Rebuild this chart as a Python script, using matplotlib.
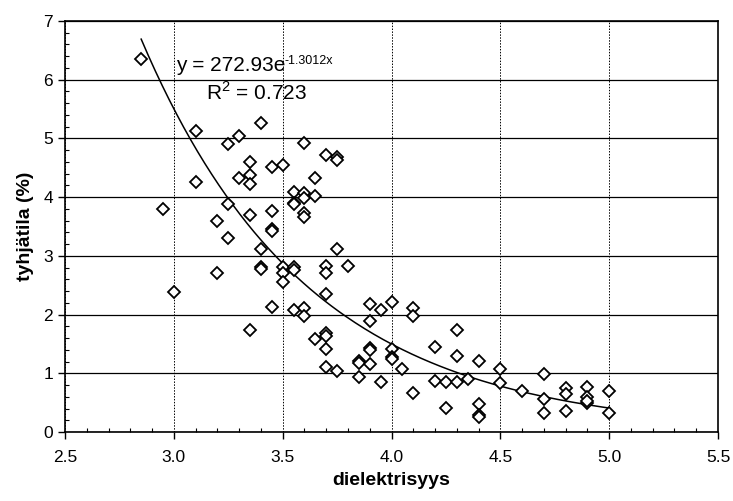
import numpy as np
import matplotlib
matplotlib.use("Agg")
import matplotlib.pyplot as plt
from matplotlib.ticker import MultipleLocator, FormatStrFormatter

plt.rcParams['font.family'] = ['Liberation Sans', 'DejaVu Sans']
plt.rcParams['mathtext.fontset'] = 'custom'
plt.rcParams['mathtext.rm'] = 'Liberation Sans'

# data (dielectric value, void content %)
diel = [2.85, 2.95, 3.00, 3.10, 3.10, 3.20, 3.20, 3.25, 3.25, 3.25,
        3.30, 3.30, 3.35, 3.35, 3.35, 3.35, 3.35, 3.40, 3.40, 3.40,
        3.40, 3.45, 3.45, 3.45, 3.45, 3.45, 3.50, 3.50, 3.50, 3.50,
        3.55, 3.55, 3.55, 3.55, 3.55, 3.55, 3.60, 3.60, 3.60, 3.60,
        3.60, 3.60, 3.60, 3.65, 3.65, 3.65, 3.70, 3.70, 3.70, 3.70,
        3.70, 3.70, 3.70, 3.70, 3.75, 3.75, 3.75, 3.75, 3.80, 3.85,
        3.85, 3.85, 3.90, 3.90, 3.90, 3.90, 3.90, 3.95, 3.95, 4.00,
        4.00, 4.00, 4.00, 4.05, 4.10, 4.10, 4.10, 4.20, 4.20, 4.25,
        4.25, 4.30, 4.30, 4.30, 4.35, 4.40, 4.40, 4.40, 4.40, 4.50,
        4.50, 4.60, 4.70, 4.70, 4.70, 4.80, 4.80, 4.80, 4.90, 4.90,
        4.90, 4.90, 5.00, 5.00]
void = [6.35, 3.79, 2.38, 5.13, 4.25, 3.59, 2.70, 4.90, 3.88, 3.31,
        5.04, 4.32, 4.60, 4.38, 4.22, 3.69, 1.74, 5.26, 3.12, 2.81,
        2.78, 4.52, 3.76, 3.45, 3.42, 2.13, 4.54, 2.81, 2.70, 2.56,
        4.08, 3.90, 2.81, 2.76, 2.08, 3.88, 4.93, 4.07, 3.98, 3.73,
        3.66, 2.11, 1.98, 4.32, 4.02, 1.58, 4.71, 2.83, 2.70, 2.35,
        1.68, 1.64, 1.41, 1.11, 4.68, 4.64, 3.11, 1.04, 2.82, 1.21,
        1.17, 0.94, 2.18, 1.89, 1.43, 1.40, 1.15, 2.08, 0.86, 2.22,
        1.41, 1.28, 1.25, 1.07, 2.11, 1.98, 0.66, 1.44, 0.87, 0.86,
        0.41, 1.74, 1.29, 0.86, 0.90, 1.21, 0.48, 0.29, 0.25, 1.08,
        0.84, 0.70, 0.98, 0.56, 0.33, 0.75, 0.64, 0.36, 0.76, 0.60,
        0.50, 0.52, 0.70, 0.32]

# trendline from chart label
fit_a = 272.93
fit_b = -1.3012
r2 = 0.723

fig = plt.figure(figsize=(7.33, 5.01), dpi=100)
ax = fig.add_axes([65/733, 69/501, 653/733, 411/501])

xs = np.linspace(min(diel), max(diel), 200)
ax.plot(xs, fit_a * np.exp(fit_b * xs), color='black', lw=1.1, zorder=3)
ax.plot(diel, void, linestyle='none', marker='D', ms=6, mfc='white',
        mec='black', mew=1.3, zorder=4)

ax.set_xlim(2.5, 5.5)
ax.set_ylim(0, 7)
ax.xaxis.set_major_locator(MultipleLocator(0.5))
ax.xaxis.set_minor_locator(MultipleLocator(0.1))
ax.yaxis.set_major_locator(MultipleLocator(1))
ax.yaxis.set_minor_locator(MultipleLocator(0.2))
ax.xaxis.set_major_formatter(FormatStrFormatter('%.1f'))
ax.yaxis.set_major_formatter(FormatStrFormatter('%d'))

ax.yaxis.grid(True, which='major', color='black', lw=0.9, ls='-')
ax.xaxis.grid(True, which='major', color='black', lw=0.7, ls=(0, (1.5, 1.5)))
ax.set_axisbelow(True)

ax.tick_params(axis='both', which='major', direction='out', length=5,
               width=1, labelsize=12.5, colors='black')
ax.tick_params(axis='both', which='minor', direction='in', length=3,
               width=0.8)
ax.tick_params(axis='x', which='major', pad=8)
for s in ax.spines.values():
    s.set_color('black')
    s.set_linewidth(1.2)

ax.set_xlabel('dielektrisyys', fontsize=14, fontweight='bold', labelpad=5)
ax.set_ylabel('tyhjätila (%)', fontsize=14, fontweight='bold', labelpad=7)

ax.text(3.01, 6.14, 'y = 272.93e', fontsize=15, ha='left', va='baseline')
ax.text(3.51, 6.27, '-1.3012x', fontsize=9, ha='left', va='baseline')
ax.text(3.148, 5.66, 'R$^\\mathregular{2}$ = 0.723', fontsize=15,
        ha='left', va='baseline')

fig.savefig('out.png', dpi=100)
